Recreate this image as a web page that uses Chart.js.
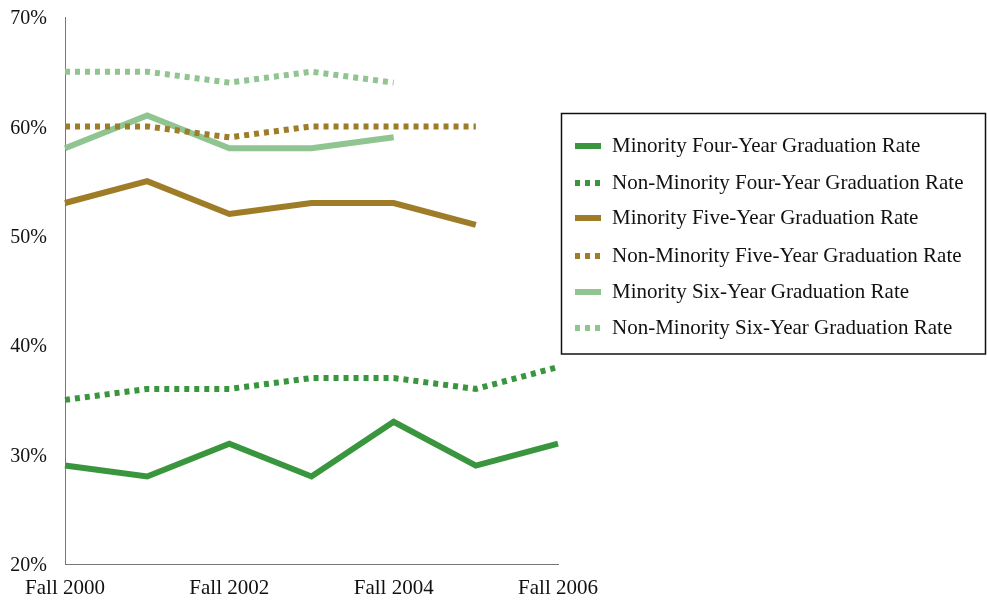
<!DOCTYPE html>
<html>
<head>
<meta charset="utf-8">
<script src="https://cdn.jsdelivr.net/npm/chart.js@4/dist/chart.umd.min.js"></script>
<style>
html,body{margin:0;padding:0;background:#fff;}
#wrap{width:987px;height:600px;position:relative;}
</style>
</head>
<body>
<div id="wrap"><canvas id="c" width="987" height="600"></canvas></div>
<script>
const categories = ['Fall 2000','Fall 2001','Fall 2002','Fall 2003','Fall 2004','Fall 2005','Fall 2006'];
const minorityFour = [29, 28, 31, 28, 33, 29, 31];
const nonMinorityFour = [35, 36, 36, 37, 37, 36, 38];
const minorityFive = [53, 55, 52, 53, 53, 51, null];
const nonMinorityFive = [60, 60, 59, 60, 60, 60, null];
const minoritySix = [58, 61, 58, 58, 59, null, null];
const nonMinoritySix = [65, 65, 64, 65, 64, null, null];
const yTicks = [20, 30, 40, 50, 60, 70];

const GREEN = 'rgb(58,150,62)';
const BROWN = 'rgb(158,124,40)';
const LIGHT = 'rgb(144,196,144)';
const DASH = [5, 5];
const FONT = '"Liberation Serif", "Times New Roman", serif';

function ds(label, data, color, dashed) {
  return {
    label, data, borderColor: color, backgroundColor: color,
    borderWidth: 6, borderDash: dashed ? DASH : [], borderCapStyle: 'butt',
    borderJoinStyle: 'miter', pointRadius: 0, pointHoverRadius: 0,
    tension: 0, spanGaps: false, fill: false
  };
}

const boxLegend = {
  id: 'boxLegend',
  afterDraw(chart) {
    const ctx = chart.ctx;
    ctx.save();
    ctx.strokeStyle = '#111';
    ctx.lineWidth = 1.5;
    ctx.strokeRect(561.5, 113.5, 424, 240.5);
    const ys = [146, 183, 218, 256, 292, 328];
    chart.data.datasets.forEach((d, i) => {
      const y = ys[i];
      ctx.beginPath();
      ctx.strokeStyle = d.borderColor;
      ctx.lineWidth = 6;
      ctx.lineCap = 'butt';
      ctx.setLineDash(d.borderDash || []);
      ctx.moveTo(575, y);
      ctx.lineTo(601, y);
      ctx.stroke();
      ctx.setLineDash([]);
      ctx.fillStyle = '#111';
      ctx.font = '21px ' + FONT;
      ctx.textBaseline = 'middle';
      ctx.textAlign = 'left';
      ctx.fillText(d.label, 612, y);
    });
    ctx.restore();
  }
};

new Chart(document.getElementById('c'), {
  type: 'line',
  data: {
    labels: categories,
    datasets: [
      ds('Minority Four-Year Graduation Rate', minorityFour, GREEN, false),
      ds('Non-Minority Four-Year Graduation Rate', nonMinorityFour, GREEN, true),
      ds('Minority Five-Year Graduation Rate', minorityFive, BROWN, false),
      ds('Non-Minority Five-Year Graduation Rate', nonMinorityFive, BROWN, true),
      ds('Minority Six-Year Graduation Rate', minoritySix, LIGHT, false),
      ds('Non-Minority Six-Year Graduation Rate', nonMinoritySix, LIGHT, true)
    ]
  },
  options: {
    responsive: false,
    animation: false,
    layout: { padding: { top: 17, right: 429, left: 0, bottom: 0 } },
    plugins: { legend: { display: false }, tooltip: { enabled: false } },
    scales: {
      x: {
        offset: false,
        grid: { display: false, drawTicks: false },
        border: { display: true, color: '#777', width: 1 },
        ticks: {
          autoSkip: false, maxRotation: 0, padding: 12, color: '#111',
          font: { family: FONT, size: 21 },
          callback: (v, i) => (i % 2 === 0 ? categories[i] : '')
        },
        afterFit(scale) { scale.height = 36; scale.paddingLeft = 0; scale.paddingRight = 0; }
      },
      y: {
        min: yTicks[0], max: yTicks[yTicks.length - 1],
        grid: { display: false, drawTicks: false },
        border: { display: true, color: '#777', width: 1 },
        afterBuildTicks(scale) { scale.ticks = yTicks.map(v => ({ value: v })); },
        ticks: {
          padding: 18, color: '#111', labelOffset: 2,
          font: { family: FONT, size: 20 },
          callback: v => v + '%'
        },
        afterFit(scale) { scale.width = 65; scale.paddingTop = 0; scale.paddingBottom = 0; }
      }
    }
  },
  plugins: [boxLegend]
});
</script>
</body>
</html>
